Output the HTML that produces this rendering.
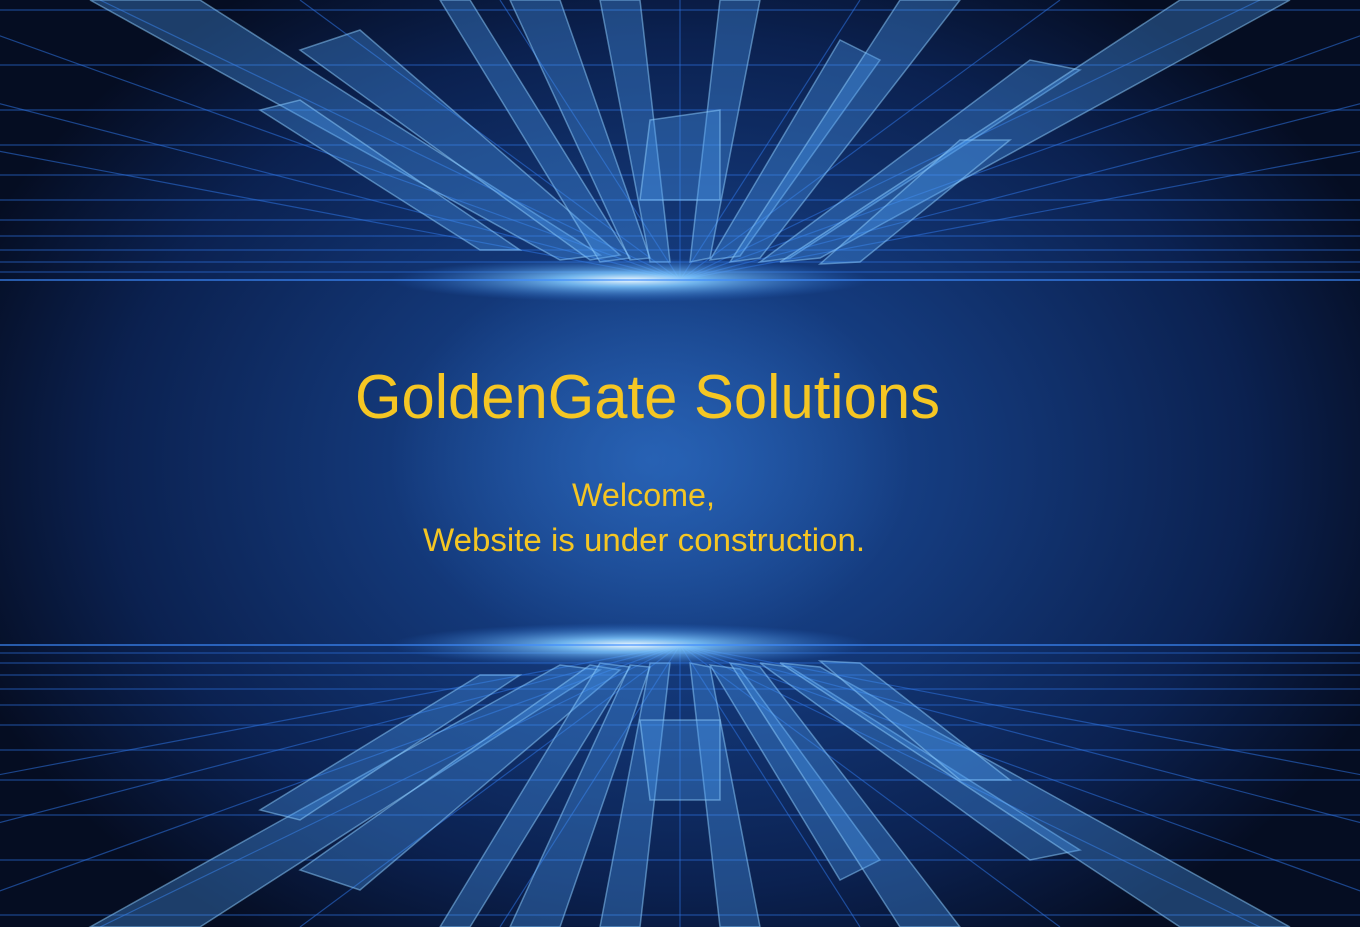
<!DOCTYPE html>
<html><head><meta charset="utf-8"><style>
html,body{margin:0;padding:0;background:#07142e;}
svg{display:block}
</style></head><body>
<svg width="1360" height="927" viewBox="0 0 1360 927" xmlns="http://www.w3.org/2000/svg">
<defs>
<radialGradient id="bg" cx="680" cy="463" r="760" gradientUnits="userSpaceOnUse" gradientTransform="translate(680 463) scale(1 0.75) translate(-680 -463)">
<stop offset="0" stop-color="#1d4f9e"/><stop offset="0.35" stop-color="#143a7c"/><stop offset="0.75" stop-color="#0b2150"/><stop offset="1" stop-color="#050d22"/>
</radialGradient>
<radialGradient id="glow" cx="0.5" cy="0.5" r="0.5">
<stop offset="0" stop-color="#f0faff" stop-opacity="1"/><stop offset="0.3" stop-color="#7fc8ff" stop-opacity="0.85"/><stop offset="1" stop-color="#2a6fd0" stop-opacity="0"/>
</radialGradient>
<radialGradient id="cglow" cx="0.5" cy="0.5" r="0.5">
<stop offset="0" stop-color="#2f6fc4" stop-opacity="0.6"/><stop offset="1" stop-color="#2f6fc4" stop-opacity="0"/>
</radialGradient>
<clipPath id="top"><rect x="0" y="0" width="1360" height="282"/></clipPath>
<clipPath id="bot"><rect x="0" y="643" width="1360" height="284"/></clipPath>
</defs>
<rect width="1360" height="927" fill="url(#bg)"/>
<ellipse cx="650" cy="460" rx="260" ry="200" fill="url(#cglow)"/>
<g stroke="#2e72e0" stroke-opacity="0.55" stroke-width="1.2" fill="none">
<g clip-path="url(#top)">
<path d="M0 272H1360M0 262H1360M0 250H1360M0 236H1360M0 220H1360M0 200H1360M0 175H1360M0 145H1360M0 110H1360M0 65H1360M0 10H1360"/>
<path d="M680 280L-800 0M680 280L-400 0M680 280L-100 0M680 280L100 0M680 280L300 0M680 280L500 0M680 280L680 0M680 280L860 0M680 280L1060 0M680 280L1260 0M680 280L1460 0M680 280L1760 0M680 280L2160 0"/>
</g>
<g clip-path="url(#bot)">
<path d="M0 653H1360M0 663H1360M0 675H1360M0 689H1360M0 705H1360M0 725H1360M0 750H1360M0 780H1360M0 815H1360M0 860H1360M0 915H1360"/>
<path d="M680 645L-800 927M680 645L-400 927M680 645L-100 927M680 645L100 927M680 645L300 927M680 645L500 927M680 645L680 927M680 645L860 927M680 645L1060 927M680 645L1260 927M680 645L1460 927M680 645L1760 927M680 645L2160 927"/>
</g>
</g>
<g fill="#4a9cf0" fill-opacity="0.35" stroke="#8fd0ff" stroke-opacity="0.5" stroke-width="1.5">
<polygon points="560,260 600,255 200,0 90,0"/>
<polygon points="590,260 620,255 360,30 300,50"/>
<polygon points="600,262 630,258 470,0 440,0"/>
<polygon points="630,260 650,258 560,0 510,0"/>
<polygon points="650,262 670,262 640,0 600,0"/>
<polygon points="690,262 710,258 760,0 720,0"/>
<polygon points="710,260 740,256 880,60 840,40"/>
<polygon points="730,262 760,258 960,0 900,0"/>
<polygon points="760,262 790,258 1080,70 1030,60"/>
<polygon points="780,262 820,258 1290,0 1180,0"/>
<polygon points="820,264 860,262 1010,140 960,140"/>
<polygon points="480,250 520,250 300,100 260,110"/>
<polygon points="640,200 720,200 720,110 650,120"/>
<polygon points="560,665 600,670 200,927 90,927"/>
<polygon points="590,665 620,670 360,890 300,870"/>
<polygon points="600,663 630,667 470,927 440,927"/>
<polygon points="630,665 650,667 560,927 510,927"/>
<polygon points="650,663 670,663 640,927 600,927"/>
<polygon points="690,663 710,667 760,927 720,927"/>
<polygon points="710,665 740,669 880,860 840,880"/>
<polygon points="730,663 760,667 960,927 900,927"/>
<polygon points="760,663 790,667 1080,850 1030,860"/>
<polygon points="780,663 820,667 1290,927 1180,927"/>
<polygon points="820,661 860,663 1010,780 960,780"/>
<polygon points="480,675 520,675 300,820 260,810"/>
<polygon points="640,720 720,720 720,800 650,800"/>
</g>
<ellipse cx="630" cy="280" rx="240" ry="22" fill="url(#glow)"/>
<ellipse cx="630" cy="645" rx="240" ry="22" fill="url(#glow)"/>
<rect x="0" y="279" width="1360" height="2" fill="#3d8cff" opacity="0.6"/>
<rect x="0" y="644" width="1360" height="2" fill="#3d8cff" opacity="0.6"/>
<g fill="#f5c623" font-family="Liberation Sans, sans-serif">
<text x="355" y="418" font-size="62" textLength="585" lengthAdjust="spacingAndGlyphs">GoldenGate Solutions</text>
<text x="572" y="506" font-size="32" textLength="143" lengthAdjust="spacingAndGlyphs">Welcome,</text>
<text x="423" y="551" font-size="32" textLength="442" lengthAdjust="spacingAndGlyphs">Website is under construction.</text>
</g>
</svg>
</body></html>
